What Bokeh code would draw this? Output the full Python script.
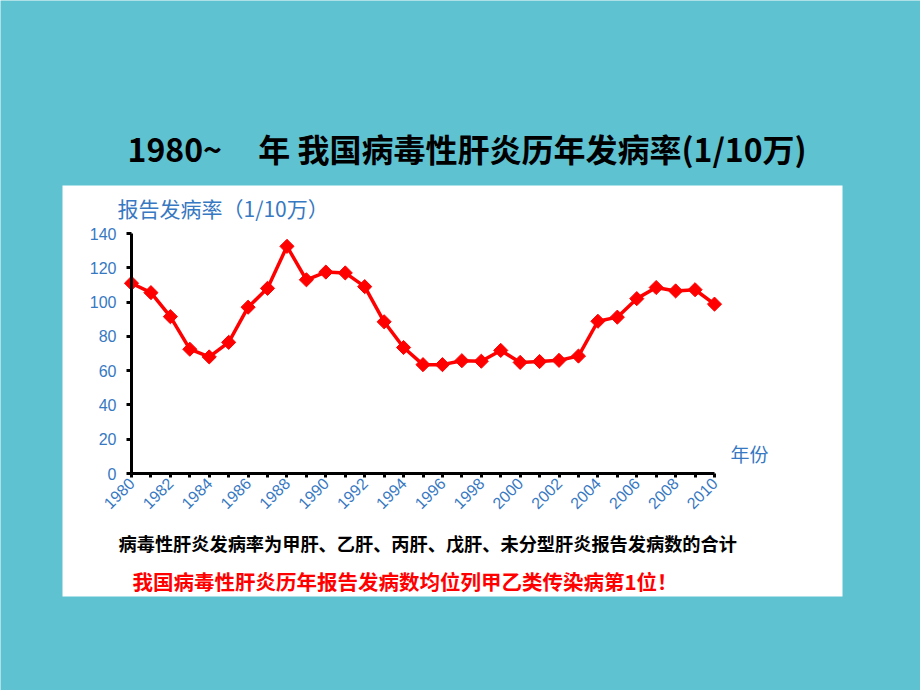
import re
from math import pi
from bokeh.plotting import figure
from bokeh.models import LinearAxis, FixedTicker, Range1d, Label, BoxAnnotation
from bokeh.embed import file_html
from bokeh.resources import INLINE

# ---- data ----
years = list(range(1980, 2011))
rates = [111.0, 105.5, 91.5, 72.5, 68.0, 76.5, 97.0, 108.0, 132.5, 113.0,
         117.5, 117.0, 109.0, 88.5, 73.5, 63.5, 63.5, 65.8, 65.5, 71.8,
         64.8, 65.3, 66.0, 68.5, 88.8, 91.2, 102.0, 108.5, 106.5, 107.2, 98.8]
y_ticks = [0, 20, 40, 60, 80, 100, 120, 140]
x_label_ticks = list(range(1980, 2011, 2))
x_minor_ticks = list(range(1981, 2010, 2))

title_text = "1980~\u00a0\u00a0\u00a0\u00a0\u00a0年 我国病毒性肝炎历年发病率(1/10万)"
y_title = "报告发病率（1/10万）"
x_title = "年份"
note1 = "病毒性肝炎发病率为甲肝、乙肝、丙肝、戊肝、未分型肝炎报告发病数的合计"
note2 = "我国病毒性肝炎历年报告发病数均位列甲乙类传染病第1位！"

TEAL = "#5fc2d1"
BLUE = "#3778c2"
CJK = "Noto Sans CJK SC"

W, H = 920, 690
# page layout: year 1980 at x=131px, 2010 at x=714px; value 0 at y=473px, 140 at y=233px
px_per_year = (714 - 131) / 30.0
px_per_unit = (473 - 233) / 140.0
x0 = 1980 - 131 / px_per_year
x1 = x0 + W / px_per_year
y1 = 473 / px_per_unit
y0 = -(H - 473) / px_per_unit

def dx(px):
    return x0 + px / px_per_year

def dy(py):
    return (473 - py) / px_per_unit

p = figure(width=W, height=H, output_backend="svg", toolbar_location=None,
           x_axis_type=None, y_axis_type=None,
           x_range=Range1d(x0, x1), y_range=Range1d(y0, y1),
           min_border=0)
p.border_fill_color = TEAL
p.background_fill_color = TEAL
p.outline_line_color = None
p.grid.visible = False

# white panel behind the chart
p.add_layout(BoxAnnotation(left=dx(62), right=dx(842), top=dy(185), bottom=dy(596),
                           fill_color="white", fill_alpha=1.0, line_color=None,
                           level="underlay"))

yaxis = LinearAxis(fixed_location=1980, bounds=(0, 140),
                   ticker=FixedTicker(ticks=y_ticks))
yaxis.axis_line_width = 3
yaxis.axis_line_color = "black"
yaxis.major_tick_line_width = 3
yaxis.major_tick_in = 0
yaxis.major_tick_out = 5
yaxis.minor_tick_line_color = None
yaxis.major_label_text_color = BLUE
yaxis.major_label_text_font = "Liberation Sans"
yaxis.major_label_text_font_size = "16px"
yaxis.major_label_standoff = 10
p.add_layout(yaxis, "left")

xaxis = LinearAxis(fixed_location=0, bounds=(1980, 2010),
                   ticker=FixedTicker(ticks=x_label_ticks, minor_ticks=x_minor_ticks))
xaxis.axis_line_width = 3
xaxis.axis_line_color = "black"
xaxis.major_tick_line_width = 3
xaxis.minor_tick_line_width = 3
xaxis.minor_tick_line_color = "black"
xaxis.major_tick_in = 0
xaxis.major_tick_out = 4
xaxis.minor_tick_in = 0
xaxis.minor_tick_out = 4
xaxis.major_label_orientation = pi / 4
xaxis.major_label_text_color = BLUE
xaxis.major_label_text_font = "Liberation Sans"
xaxis.major_label_text_font_size = "16px"
xaxis.major_label_standoff = 3
p.add_layout(xaxis, "below")

p.line(years, rates, line_color="#ff0000", line_width=3.5)
p.scatter(years, rates, marker="square", angle=pi / 4, size=10,
          fill_color="#ff0000", line_color="#ff0000")

def lab(text, x, y, size, color, bold=False, align="left"):
    # x, y in page pixels (origin at top-left)
    p.add_layout(Label(x=x, y=H - y, x_units="screen", y_units="screen", text=text,
                       text_font=CJK, text_font_size=size, text_color=color,
                       text_font_style="bold" if bold else "normal",
                       text_align=align, text_baseline="middle"))

lab(title_text, 127, 147, "32px", "black", bold=True)
lab(y_title, 117, 207, "21px", BLUE)
lab(x_title, 730, 453, "19px", BLUE)
lab(note1, 118, 542, "18.2px", "black", bold=True)
lab(note2, 132, 580, "20.5px", "#ff0000", bold=True)

html = file_html(p, INLINE)
html = re.sub(r"<body[^>]*>",
              '<body style="margin:0;overflow:hidden;background-color:%s;">' % TEAL,
              html, count=1)
open("out.html", "w").write(html)
